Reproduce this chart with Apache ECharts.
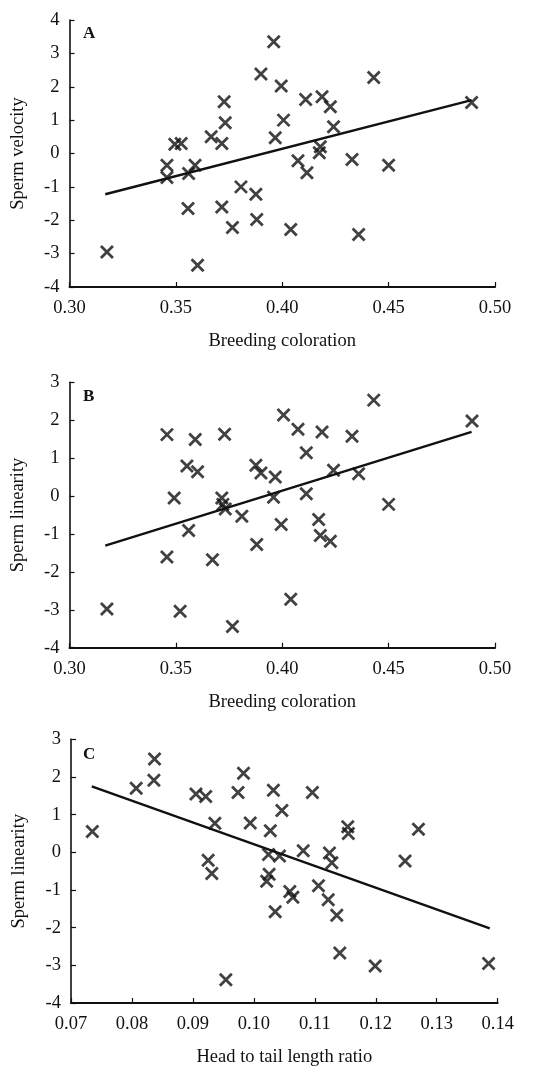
<!DOCTYPE html>
<html>
<head>
<meta charset="utf-8">
<script src="https://cdn.jsdelivr.net/npm/echarts@6/dist/echarts.min.js"></script>
<style>html,body{margin:0;padding:0;background:#fff}#c{width:554px;height:1068px}</style>
</head>
<body>
<div id="c"></div>
<script>
// Panel A: Breeding coloration vs Sperm velocity
const pointsA = [
  [0.396,3.35],[0.390,2.38],[0.3995,2.02],[0.443,2.28],[0.411,1.62],[0.4187,1.70],
  [0.4226,1.40],[0.489,1.53],[0.3727,1.55],[0.3732,0.92],[0.4006,1.00],[0.4241,0.80],
  [0.3666,0.50],[0.3716,0.30],[0.3967,0.47],[0.3495,0.28],[0.3525,0.30],[0.4179,0.20],
  [0.4174,0.02],[0.4074,-0.22],[0.4328,-0.18],[0.450,-0.35],[0.3458,-0.35],[0.359,-0.35],
  [0.4116,-0.58],[0.356,-0.60],[0.3458,-0.72],[0.3806,-1.00],[0.3876,-1.22],[0.3557,-1.65],
  [0.3716,-1.60],[0.3766,-2.22],[0.388,-1.98],[0.404,-2.28],[0.4359,-2.43],[0.3176,-2.95],
  [0.3602,-3.35]
];
const trendA = [[0.3168,-1.22],[0.489,1.60]];

// Panel B: Breeding coloration vs Sperm linearity
const pointsB = [
  [0.3458,1.62],[0.3591,1.49],[0.3729,1.63],[0.4006,2.14],[0.4074,1.76],[0.4187,1.69],
  [0.4328,1.58],[0.443,2.53],[0.4892,1.98],[0.4113,1.14],[0.3552,0.79],[0.3602,0.64],
  [0.3876,0.81],[0.390,0.61],[0.3967,0.50],[0.4241,0.68],[0.4359,0.59],[0.3492,-0.05],
  [0.3716,-0.05],[0.3721,-0.22],[0.3732,-0.34],[0.3959,-0.03],[0.4113,0.06],[0.450,-0.22],
  [0.381,-0.53],[0.3995,-0.75],[0.4171,-0.62],[0.356,-0.91],[0.4179,-1.04],[0.4226,-1.19],
  [0.388,-1.28],[0.3458,-1.61],[0.3672,-1.68],[0.3176,-2.98],[0.352,-3.04],[0.404,-2.72],
  [0.3766,-3.44]
];
const trendB = [[0.3168,-1.31],[0.489,1.69]];

// Panel C: Head to tail length ratio vs Sperm linearity
const pointsC = [
  [0.0735,0.55],[0.0807,1.70],[0.0837,2.48],[0.0836,1.91],[0.0905,1.55],[0.0921,1.48],
  [0.0974,1.59],[0.0983,2.10],[0.1032,1.65],[0.1096,1.59],[0.1046,1.11],[0.0936,0.77],
  [0.0994,0.78],[0.1027,0.57],[0.1154,0.68],[0.1155,0.50],[0.127,0.61],[0.0925,-0.21],
  [0.0931,-0.56],[0.1024,-0.06],[0.1042,-0.10],[0.1081,0.04],[0.1124,-0.02],[0.1128,-0.28],
  [0.1248,-0.23],[0.1025,-0.58],[0.1021,-0.77],[0.1059,-1.04],[0.1064,-1.19],[0.1106,-0.89],
  [0.1122,-1.26],[0.1136,-1.67],[0.1035,-1.58],[0.1141,-2.67],[0.1199,-3.02],[0.1385,-2.95],
  [0.0954,-3.38]
];
const trendC = [[0.0734,1.75],[0.1387,-2.02]];

const xTicksAB = [0.30, 0.50, 0.05];
const xTicksC = [0.07, 0.14, 0.01];
const yTicksA = [-4, 4, 1];
const yTicksBC = [-4, 3, 1];

const FONT = '"Liberation Serif","DejaVu Serif",serif';
const INK = '#111';
const XSYM = 'path://M0,0L10,10M10,0L0,10';

function xAxisOf(idx, t, name){
  return {
    gridIndex: idx, type: 'value', min: t[0], max: t[1], interval: t[2],
    name: name, nameLocation: 'middle', nameGap: 45,
    nameTextStyle: {fontFamily: FONT, fontSize: 18.5, color: INK},
    axisLine: {show: true, onZero: false, lineStyle: {color: INK, width: 2}},
    axisTick: {show: true, inside: true, length: 5, lineStyle: {color: INK, width: 1.2}},
    axisLabel: {fontFamily: FONT, fontSize: 18.5, color: INK, margin: 12,
      formatter: v => v.toFixed(2)},
    splitLine: {show: false}
  };
}
function yAxisOf(idx, t, name){
  return {
    gridIndex: idx, type: 'value', min: t[0], max: t[1], interval: t[2],
    name: name, nameLocation: 'middle', nameGap: 42,
    nameTextStyle: {fontFamily: FONT, fontSize: 18.5, color: INK},
    axisLine: {show: true, onZero: false, lineStyle: {color: INK, width: 1.6}},
    axisTick: {show: true, inside: true, length: 5, lineStyle: {color: INK, width: 1.2}},
    axisLabel: {fontFamily: FONT, fontSize: 18.5, color: INK, margin: 10},
    splitLine: {show: false}
  };
}
function scatterOf(idx, data){
  return {
    type: 'scatter', xAxisIndex: idx, yAxisIndex: idx, data: data,
    symbol: XSYM, symbolSize: 12, symbolKeepAspect: true,
    itemStyle: {color: 'rgba(0,0,0,0)', borderColor: INK, borderWidth: 2.8},
    silent: true, z: 3
  };
}
function trendOf(idx, data){
  return {
    type: 'line', xAxisIndex: idx, yAxisIndex: idx, data: data,
    showSymbol: false, symbol: 'none', lineStyle: {color: INK, width: 2.4},
    silent: true, z: 2
  };
}
function labelOf(text, left, top){
  return {text: text, left: left, top: top,
    textStyle: {fontFamily: FONT, fontSize: 17, fontWeight: 'bold', color: INK}};
}

const chart = echarts.init(document.getElementById('c'), null, {renderer: 'canvas'});
chart.setOption({
  animation: false,
  backgroundColor: '#fff',
  title: [labelOf('A', 78, 20), labelOf('B', 78, 383), labelOf('C', 78, 741)],
  grid: [
    {left: 69.5, top: 20, width: 425.5, height: 267},
    {left: 69.5, top: 382.3, width: 425.5, height: 265.4},
    {left: 71, top: 739.3, width: 426.7, height: 268}
  ],
  xAxis: [
    xAxisOf(0, xTicksAB, 'Breeding coloration'),
    xAxisOf(1, xTicksAB, 'Breeding coloration'),
    xAxisOf(2, xTicksC, 'Head to tail length ratio')
  ],
  yAxis: [
    yAxisOf(0, yTicksA, 'Sperm velocity'),
    yAxisOf(1, yTicksBC, 'Sperm linearity'),
    yAxisOf(2, yTicksBC, 'Sperm linearity')
  ],
  series: [
    trendOf(0, trendA), scatterOf(0, pointsA),
    trendOf(1, trendB), scatterOf(1, pointsB),
    trendOf(2, trendC), scatterOf(2, pointsC)
  ]
});
</script>
</body>
</html>
